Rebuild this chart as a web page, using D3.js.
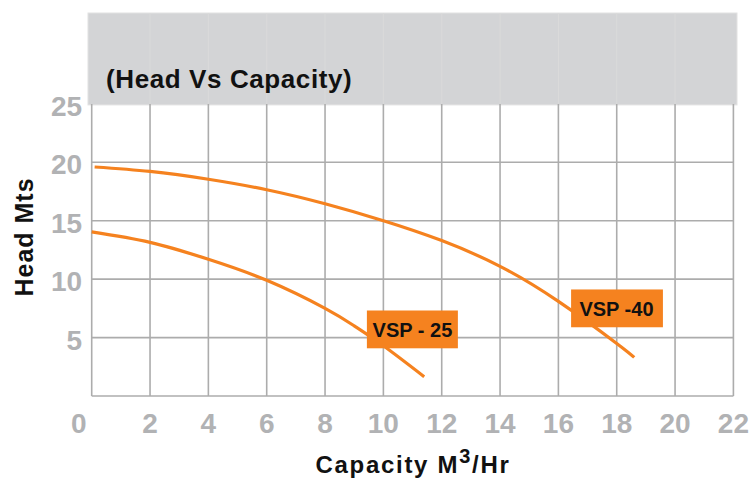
<!DOCTYPE html>
<html>
<head>
<meta charset="utf-8">
<script src="https://cdn.jsdelivr.net/npm/d3@7"></script>
<style>
  html, body { margin: 0; padding: 0; background: #ffffff; }
  svg { display: block; }
  text { font-family: "Liberation Sans", Arial, Helvetica, sans-serif; font-weight: bold; }
</style>
</head>
<body>
<svg id="chart" width="755" height="479"></svg>
<script>
// ---- data ----
const chartTitle = "(Head Vs Capacity)";
const xTitle = "Capacity M";
const xTitleSup = "3";
const xTitleTail = "/Hr";
const yTitle = "Head Mts";

const xTicks = [0, 2, 4, 6, 8, 10, 12, 14, 16, 18, 20, 22];
const yTicks = [5, 10, 15, 20, 25];

const seriesNames = ["VSP - 25", "VSP -40"];
const vsp25X = [0, 2, 4, 6, 8, 9, 10, 11.4];
const vsp25Y = [14.05, 13.15, 11.7, 9.9, 7.5, 6.0, 4.3, 1.65];
const vsp40X = [0.1, 2, 4, 6, 8, 10, 12, 14, 16, 18, 18.6];
const vsp40Y = [19.6, 19.22, 18.55, 17.65, 16.45, 15.0, 13.3, 11.1, 8.1, 4.5, 3.3];
// label anchor (text start, baseline) in data units
const labelX = [9.63, 16.72];
const labelY = [5.05, 6.85];

// ---- layout ----
const svg = d3.select("#chart");
const x = d3.scaleLinear().domain([0, 22]).range([91.7, 733.4]);
const y = d3.scaleLinear().domain([0, 25]).range([396, 103.9]);

const gridColor = "#acacac";
const tickColor = "#b1b2b4";
const orange = "#f5821f";

// header box
svg.append("rect")
  .attr("x", 88).attr("y", 13)
  .attr("width", 649).attr("height", y(25) - 13 + 1)
  .attr("fill", "#d3d4d6")
  .attr("stroke", "#e2e2e2").attr("stroke-width", 1);

// faint grid inside header
svg.append("g").selectAll("line")
  .data(xTicks.slice(1, -1)).join("line")
  .attr("x1", d => x(d)).attr("x2", d => x(d))
  .attr("y1", 13).attr("y2", y(25))
  .attr("stroke", "#dadada").attr("stroke-width", 1);

// title
svg.append("text")
  .attr("x", 106).attr("y", 88)
  .attr("font-size", 26)
  .attr("letter-spacing", 0.6)
  .attr("fill", "#111")
  .text(chartTitle);

// grid
const grid = svg.append("g");
grid.selectAll("line.v")
  .data(xTicks).join("line").attr("class", "v")
  .attr("x1", d => x(d)).attr("x2", d => x(d))
  .attr("y1", y(25)).attr("y2", y(0))
  .attr("stroke", gridColor).attr("stroke-width", 1.6);
grid.selectAll("line.h")
  .data([0].concat(yTicks.slice(0, -1))).join("line").attr("class", "h")
  .attr("x1", x(0)).attr("x2", x(22))
  .attr("y1", d => y(d)).attr("y2", d => y(d))
  .attr("stroke", gridColor).attr("stroke-width", 1.6);

// y tick labels
svg.append("g").selectAll("text")
  .data(yTicks).join("text")
  .attr("x", x(0) - 9.5)
  .attr("y", d => y(d) + 12)
  .attr("text-anchor", "end")
  .attr("font-size", 28)
  .attr("fill", tickColor)
  .text(d => d);

// x tick labels
svg.append("g").selectAll("text")
  .data(xTicks).join("text")
  .attr("x", d => x(d) + (d === 0 ? -13 : 0))
  .attr("y", 433)
  .attr("text-anchor", "middle")
  .attr("font-size", 28)
  .attr("fill", tickColor)
  .text(d => d);

// axis titles
const xt = svg.append("text")
  .attr("x", 413).attr("y", 473.3)
  .attr("text-anchor", "middle")
  .attr("font-size", 24)
  .attr("letter-spacing", 1.7)
  .attr("fill", "#111");
xt.append("tspan").text(xTitle);
xt.append("tspan").attr("dy", -10.6).attr("font-size", 20).text(xTitleSup);
xt.append("tspan").attr("dy", 10.6).text(xTitleTail);

svg.append("text")
  .attr("transform", "translate(32.5,237) rotate(-90)")
  .attr("text-anchor", "middle")
  .attr("font-size", 25)
  .attr("letter-spacing", 1)
  .attr("fill", "#111")
  .text(yTitle);

// curves
const line = d3.line()
  .x(d => x(d[0])).y(d => y(d[1]))
  .curve(d3.curveNatural);
const series = [d3.zip(vsp25X, vsp25Y), d3.zip(vsp40X, vsp40Y)];
svg.append("g").selectAll("path")
  .data(series).join("path")
  .attr("d", line)
  .attr("fill", "none")
  .attr("stroke", orange)
  .attr("stroke-width", 3.2)
  .attr("stroke-linecap", "butt");

// labels
seriesNames.forEach((name, i) => {
  const g = svg.append("g");
  const bg = g.append("rect").attr("fill", orange);
  const t = g.append("text")
    .attr("x", x(labelX[i])).attr("y", y(labelY[i]))
    .attr("font-size", 20)
    .attr("fill", "#111")
    .text(name);
  const b = t.node().getBBox();
  const bx = b.x - (i === 0 ? 5.7 : 8.3);
  const bw = b.width + (i === 0 ? 11.3 : 17.7);
  bg.attr("x", bx).attr("y", y(labelY[i]) - 26.5)
    .attr("width", bw).attr("height", 37.8);
});
</script>
</body>
</html>
